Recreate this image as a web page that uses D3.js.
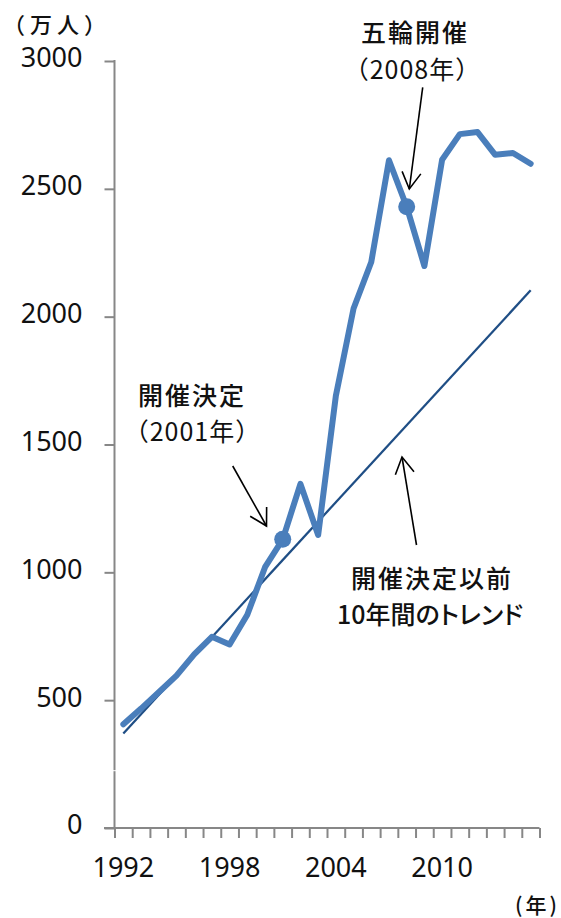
<!DOCTYPE html>
<html>
<head>
<meta charset="utf-8">
<script src="https://cdn.jsdelivr.net/npm/d3@7"></script>
<style>
  html, body { margin: 0; padding: 0; background: #fff; }
  svg { display: block; }
  .jp { font-family: "Noto Sans CJK JP", "Noto Sans", sans-serif; fill: #111; }
  .palt { font-feature-settings: "palt"; }
  .num { font-family: "Noto Sans", "DejaVu Sans", sans-serif; fill: #111; }
</style>
</head>
<body>
<svg id="chart" width="561" height="918"></svg>
<script>
// Annual visitors (万人), 1992–2015
const years = [1992, 1993, 1994, 1995, 1996, 1997, 1998, 1999, 2000, 2001, 2002, 2003,
               2004, 2005, 2006, 2007, 2008, 2009, 2010, 2011, 2012, 2013, 2014, 2015];
const visitors = [406, 467, 531, 596, 679, 748, 718, 834, 1020, 1129, 1346, 1146,
                  1690, 2032, 2214, 2612, 2430, 2198, 2614, 2714, 2722, 2633, 2640, 2598];

// Linear trend of the ten years before the decision, drawn across the full range
const trendYears = [1992, 2015];
const trendValues = [370, 2103];

// Highlighted years
const markedYears = [2001, 2008];

// Axis labels
const yTicks = [0, 500, 1000, 1500, 2000, 2500, 3000];
const xLabelYears = [1992, 1998, 2004, 2010];

const svg = d3.select("#chart");

const x = d3.scaleBand().domain(years).range([114.5, 539.5]).padding(0);
const xc = d => x(d) + x.bandwidth() / 2;
const xEdge = d3.scaleLinear().domain([0, years.length]).range([114.5, 539.5]);
const y = d3.scaleLinear().domain([0, 3000]).range([828, 61]);

const axisColor = "#878787";

// Y axis
const gy = svg.append("g").attr("transform", "translate(114.5,0)")
  .call(d3.axisLeft(y).tickValues(yTicks).tickSize(10).tickPadding(22).tickFormat(d3.format("d")));
gy.select(".domain").remove();
gy.selectAll(".tick line").attr("stroke", axisColor).attr("stroke-width", 2);
gy.selectAll(".tick text").attr("class", "num").attr("font-size", 27).attr("dy", "0.22em");
svg.append("line").attr("x1", 114.5).attr("x2", 114.5).attr("y1", y(3000) - 1).attr("y2", y(0))
  .attr("stroke", axisColor).attr("stroke-width", 2);
// small break in the axis line
svg.append("line").attr("x1", 112).attr("x2", 117).attr("y1", 770.7).attr("y2", 770.7)
  .attr("stroke", "#fff").attr("stroke-width", 1);

// X axis: ticks between categories
const gx = svg.append("g").attr("transform", `translate(0,${y(0)})`)
  .call(d3.axisBottom(xEdge).tickValues(d3.range(0, years.length + 1)).tickSize(10).tickFormat(""));
gx.select(".domain").remove();
gx.selectAll(".tick line").attr("stroke", axisColor).attr("stroke-width", 2);
svg.append("line").attr("x1", 104).attr("x2", 539.5).attr("y1", y(0)).attr("y2", y(0))
  .attr("stroke", axisColor).attr("stroke-width", 2);

const gxl = svg.append("g").attr("transform", `translate(0,${y(0)})`)
  .call(d3.axisBottom(x).tickValues(xLabelYears).tickSize(0).tickPadding(30).tickFormat(d3.format("d")));
gxl.select(".domain").remove();
gxl.selectAll(".tick text").attr("class", "num").attr("font-size", 27);

// Unit labels
svg.append("text").attr("class", "jp").attr("x", 3).attr("y", 33)
  .attr("font-size", 22).attr("font-weight", 500).attr("letter-spacing", 5).text("（万人）");
svg.append("text").attr("class", "jp").attr("x", 515).attr("y", 913)
  .attr("font-size", 21).attr("font-weight", 500).attr("letter-spacing", 3).text("(年)");

// Trend line
svg.append("path")
  .datum(trendYears.map((yr, i) => [yr, trendValues[i]]))
  .attr("fill", "none").attr("stroke", "#1f4e85").attr("stroke-width", 2.25)
  .attr("d", d3.line().x(d => xc(d[0])).y(d => y(d[1])));

// Visitors line
svg.append("path")
  .datum(years.map((yr, i) => [yr, visitors[i]]))
  .attr("fill", "none").attr("stroke", "#4a7ebb").attr("stroke-width", 6)
  .attr("stroke-linejoin", "round").attr("stroke-linecap", "round")
  .attr("d", d3.line().x(d => xc(d[0])).y(d => y(d[1])));

// Markers
svg.selectAll("circle.mark").data(markedYears).join("circle")
  .attr("class", "mark")
  .attr("cx", d => xc(d)).attr("cy", d => y(visitors[years.indexOf(d)]))
  .attr("r", 8.5).attr("fill", "#4a7ebb");

// Arrows
function arrow(x1, y1, x2, y2) {
  const g = svg.append("g").attr("stroke", "#000").attr("stroke-width", 1.6).attr("fill", "none");
  g.append("line").attr("x1", x1).attr("y1", y1).attr("x2", x2).attr("y2", y2);
  const ang = Math.atan2(y2 - y1, x2 - x1);
  const len = 19, spread = 0.52;
  const p = a => [x2 - len * Math.cos(a), y2 - len * Math.sin(a)];
  const a1 = p(ang - spread), a2 = p(ang + spread);
  g.append("path").attr("d", `M${a1[0]},${a1[1]}L${x2},${y2}L${a2[0]},${a2[1]}`)
    .attr("stroke-linejoin", "miter");
}
arrow(232.7, 466, 266.5, 526);
arrow(422.7, 87.3, 409.3, 189);
arrow(416.5, 545, 402, 457);

// Annotation text
function note(cx, yb, t, opts = {}) {
  return svg.append("text").attr("class", "jp" + (opts.palt ? " palt" : ""))
    .attr("x", cx + (opts.ls || 0) / 2).attr("y", yb)
    .attr("text-anchor", "middle").attr("font-size", 25)
    .attr("font-weight", opts.w || 400)
    .attr("letter-spacing", opts.ls || 0).text(t);
}
note(414, 42, "五輪開催", { ls: 2, w: 500 });
note(412, 79, "（2008年）", { ls: 1 });
note(191, 405, "開催決定", { ls: 2, w: 500 });
note(192, 441, "（2001年）", { ls: 1 });
note(431, 588, "開催決定以前", { ls: 2, w: 500 });
note(430, 624, "10年間のトレンド", { palt: true, w: 500 });
</script>
</body>
</html>
